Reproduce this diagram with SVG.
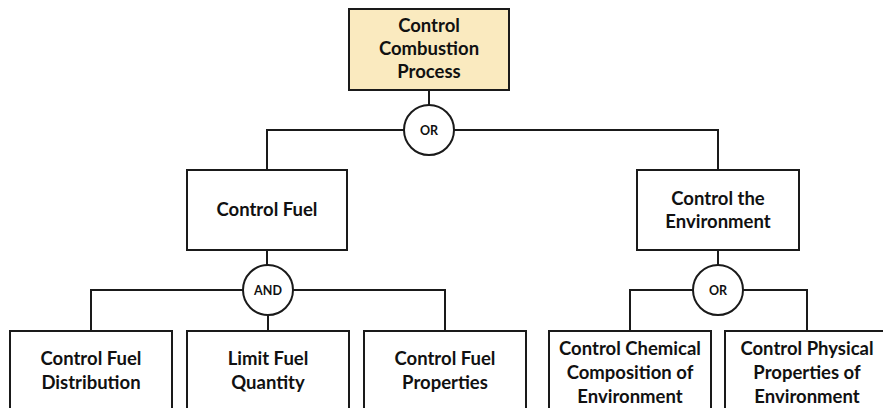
<svg xmlns="http://www.w3.org/2000/svg" width="883" height="408" viewBox="0 0 883 408">
  <style>
    .box { fill: #ffffff; stroke: #1a1a1a; stroke-width: 2; }
    .root { fill: #faeabf; }
    .gate { fill: #ffffff; stroke: #1a1a1a; stroke-width: 2; }
    .wire { fill: none; stroke: #1a1a1a; stroke-width: 2; }
    .label { font-family: Lato, "Liberation Sans", sans-serif; font-weight: bold; font-size: 18.5px; fill: #111111; text-anchor: middle; }
    .gl { font-family: Lato, "Liberation Sans", sans-serif; font-weight: bold; font-size: 12.5px; fill: #111111; text-anchor: middle; }
  </style>
  <rect width="883" height="408" fill="#ffffff"/>

  <!-- connectors -->
  <g id="connectors">
    <path class="wire" d="M429 90 V105"/>
    <path class="wire" d="M267 170 V130 H404 M454 130 H718 V170"/>
    <path class="wire" d="M267 250 V265"/>
    <path class="wire" d="M91 331 V290 H243 M293 290 H445 V331 M268 315 V331"/>
    <path class="wire" d="M718 250 V265"/>
    <path class="wire" d="M630 331 V290 H693 M743 290 H807 V331"/>
  </g>

  <!-- root goal -->
  <g id="node-combustion">
    <rect class="box root" x="349" y="9" width="160" height="81"/>
    <text class="label" x="429" y="32">Control</text>
    <text class="label" x="429" y="55">Combustion</text>
    <text class="label" x="429" y="78">Process</text>
  </g>

  <g id="gate-or-top">
    <circle class="gate" cx="429" cy="130" r="25"/>
    <text class="gl" x="429" y="134.5">OR</text>
  </g>

  <g id="node-fuel">
    <rect class="box" x="187" y="170" width="160" height="80"/>
    <text class="label" x="267" y="216">Control Fuel</text>
  </g>

  <g id="node-environment">
    <rect class="box" x="637" y="170" width="162" height="80"/>
    <text class="label" x="718" y="205">Control the</text>
    <text class="label" x="718" y="228">Environment</text>
  </g>

  <g id="gate-and">
    <circle class="gate" cx="268" cy="290" r="25"/>
    <text class="gl" x="268" y="294.5">AND</text>
  </g>

  <g id="gate-or-env">
    <circle class="gate" cx="718" cy="290" r="25"/>
    <text class="gl" x="718" y="294.5">OR</text>
  </g>

  <!-- leaf goals (run past the lower edge) -->
  <g id="node-distribution">
    <rect class="box" x="10" y="331" width="162" height="90"/>
    <text class="label" x="91" y="365">Control Fuel</text>
    <text class="label" x="91" y="389">Distribution</text>
  </g>

  <g id="node-quantity">
    <rect class="box" x="187" y="331" width="162" height="90"/>
    <text class="label" x="268" y="365">Limit Fuel</text>
    <text class="label" x="268" y="389">Quantity</text>
  </g>

  <g id="node-properties">
    <rect class="box" x="364" y="331" width="162" height="90"/>
    <text class="label" x="445" y="365">Control Fuel</text>
    <text class="label" x="445" y="389">Properties</text>
  </g>

  <g id="node-chemical">
    <rect class="box" x="549" y="331" width="162" height="90"/>
    <text class="label" x="630" y="355">Control Chemical</text>
    <text class="label" x="630" y="379">Composition of</text>
    <text class="label" x="630" y="403">Environment</text>
  </g>

  <g id="node-physical">
    <rect class="box" x="725" y="331" width="164" height="90"/>
    <text class="label" x="807" y="355">Control Physical</text>
    <text class="label" x="807" y="379">Properties of</text>
    <text class="label" x="807" y="403">Environment</text>
  </g>
</svg>
